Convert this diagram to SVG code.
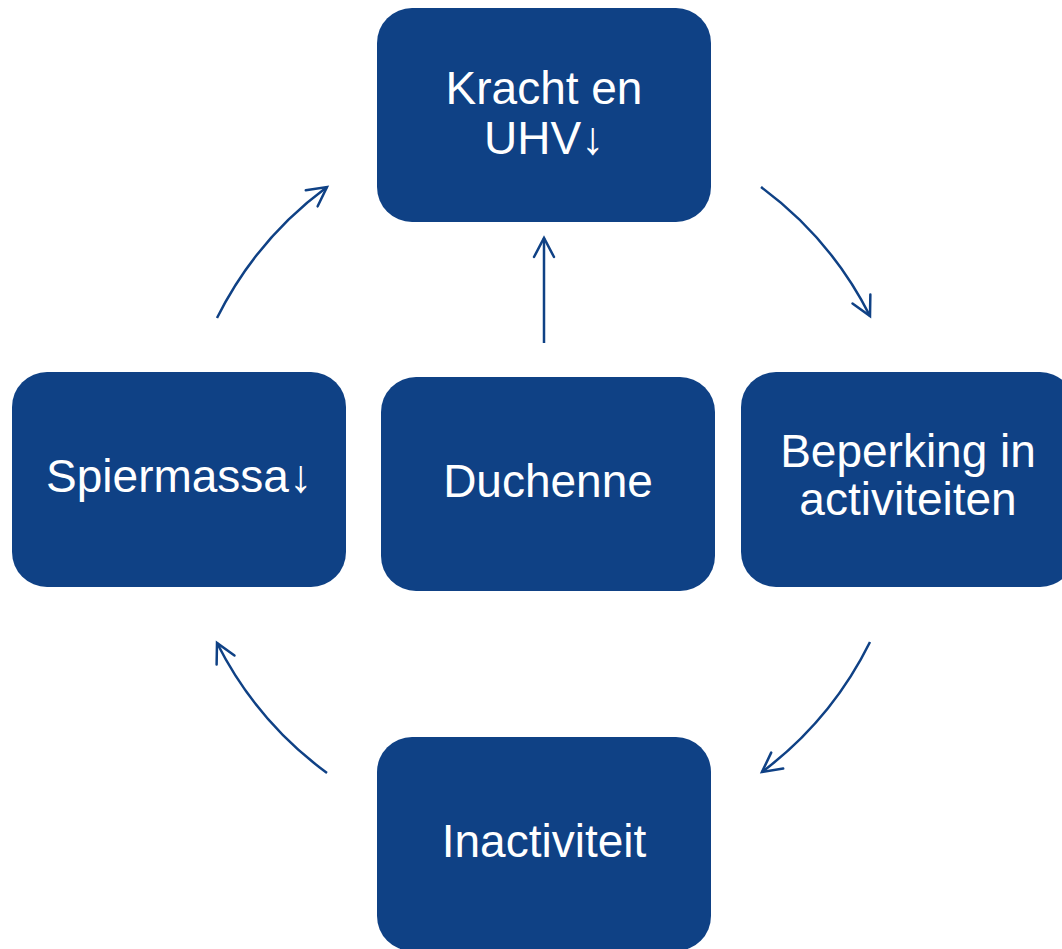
<svg xmlns="http://www.w3.org/2000/svg" width="1062" height="949" viewBox="0 0 1062 949">
  <style>
    .node rect { fill: #0F4185; }
    .node text { fill: #FFFFFF; font-family: "Liberation Sans", Arial, sans-serif; font-size: 46px; text-anchor: middle; }
    .conn path { fill: none; stroke: #0F4185; stroke-width: 2.5; marker-end: url(#arr); }
  </style>
  <defs>
    <marker id="arr" markerUnits="userSpaceOnUse" markerWidth="40" markerHeight="40" viewBox="-30 -20 40 40" refX="0" refY="0" orient="auto">
      <path d="M-19,-10 L0,0 L-19,10" fill="none" stroke="#0F4185" stroke-width="2.5" stroke-linecap="round" stroke-linejoin="miter"/>
    </marker>
  </defs>
  <rect width="1062" height="949" fill="#FFFFFF"/>
  <g class="conn" id="connectors">
    <path d="M761,187 A365,365 0 0 1 870,316"/>
    <path d="M870,642 A365,365 0 0 1 762,772"/>
    <path d="M327,773 A365,365 0 0 1 217,643"/>
    <path d="M217,318 A365,365 0 0 1 327,187"/>
    <path d="M544,343 L544,238"/>
  </g>
  <g class="node" id="node-kracht">
    <rect x="377" y="8" width="334" height="214" rx="35" ry="35"/>
    <text x="544" y="104">Kracht en</text>
    <text x="544" y="154">UHV↓</text>
  </g>
  <g class="node" id="node-spiermassa">
    <rect x="12" y="372" width="334" height="215" rx="35" ry="35"/>
    <text x="179" y="492">Spiermassa↓</text>
  </g>
  <g class="node" id="node-duchenne">
    <rect x="381" y="377" width="334" height="214" rx="35" ry="35"/>
    <text x="548" y="497">Duchenne</text>
  </g>
  <g class="node" id="node-beperking">
    <rect x="741" y="372" width="334" height="215" rx="35" ry="35"/>
    <text x="908" y="467">Beperking in</text>
    <text x="908" y="515">activiteiten</text>
  </g>
  <g class="node" id="node-inactiviteit">
    <rect x="377" y="737" width="334" height="214" rx="35" ry="35"/>
    <text x="544" y="857">Inactiviteit</text>
  </g>
</svg>
